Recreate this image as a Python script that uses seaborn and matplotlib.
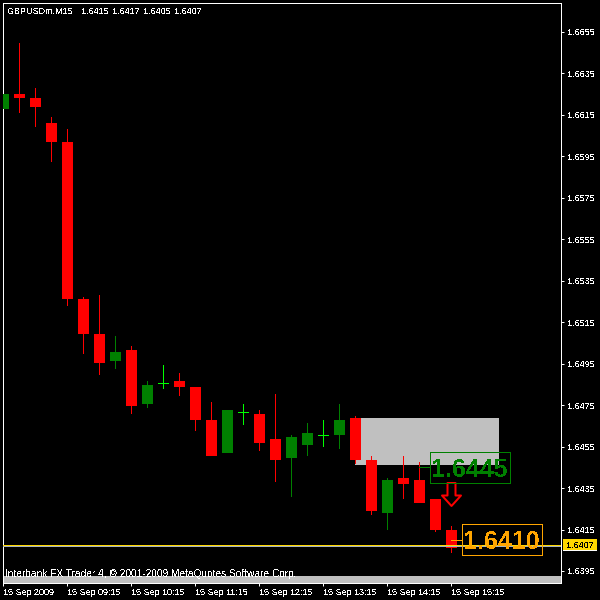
"""GBPUSD M15 candles, MT4 style"""

import matplotlib
matplotlib.use('Agg')
import matplotlib.pyplot as plt
from matplotlib.path import Path
import seaborn as sns
import pandas as pd
import numpy as np

# ---------------------------- data ------------------------------
opens = [1.66184, 1.66251, 1.66232, 1.66111, 1.66019, 1.65262, 1.65093, 1.64968, 1.65016, 1.64760,
         1.64857, 1.64867, 1.64838, 1.64678, 1.64524, 1.64717, 1.64707, 1.64587, 1.64500, 1.64563,
         1.64606, 1.64611, 1.64688, 1.64485, 1.64235, 1.64399, 1.64389, 1.64297, 1.64148]
highs = [1.66280, 1.66497, 1.66280, 1.66140, 1.66082, 1.65272, 1.65281, 1.65084, 1.65035, 1.64867,
         1.64944, 1.64905, 1.64838, 1.64765, 1.64727, 1.64756, 1.64727, 1.64804, 1.64606, 1.64664,
         1.64678, 1.64756, 1.64698, 1.64505, 1.64399, 1.64505, 1.64476, 1.64297, 1.64167]
lows = [1.66155, 1.66164, 1.66097, 1.65928, 1.65233, 1.65002, 1.64900, 1.64929, 1.64712, 1.64741,
        1.64833, 1.64799, 1.64630, 1.64510, 1.64524, 1.64659, 1.64534, 1.64384, 1.64312, 1.64510,
        1.64553, 1.64543, 1.64471, 1.64225, 1.64153, 1.64302, 1.64283, 1.64143, 1.64042]
closes = [1.66251, 1.66237, 1.66193, 1.66024, 1.65267, 1.65098, 1.64958, 1.65006, 1.64751, 1.64847,
          1.64857, 1.64842, 1.64683, 1.64510, 1.64727, 1.64717, 1.64572, 1.64490, 1.64596, 1.64616,
          1.64606, 1.64678, 1.64490, 1.64244, 1.64389, 1.64375, 1.64283, 1.64153, 1.64066]

price_ticks = [1.6395, 1.6415, 1.6435, 1.6455, 1.6475, 1.6495, 1.6515, 1.6535, 1.6555, 1.6575,
               1.6595, 1.6615, 1.6635, 1.6655]
time_ticks = [0, 4, 8, 12, 16, 20, 24, 28]
time_labels = ['15 Sep 2009', '15 Sep 09:15', '15 Sep 10:15', '15 Sep 11:15', '15 Sep 12:15',
               '15 Sep 13:15', '15 Sep 14:15', '15 Sep 15:15']

header_name = 'GBPUSDm,M15'
header_ohlc = ['1.6415', '1.6417', '1.6405', '1.6407']
footer = 'Interbank FX Trader 4, © 2001-2009 MetaQuotes Software Corp.'

zone_bars = [22, 31]
zone_low = 1.64461
zone_high = 1.64688
strip_top = 1.63926
bid_price = 1.64075
ask_price = 1.64071
green_label = (26, 1.6445)
orange_label = (28, 1.6410)
signal_bar = 28
signal_price = 1.64323

PX = 0.72   # one pixel in points at dpi 100
RED = '#ff0000'
GREEN = '#008000'
LIME = '#00ff00'
GREY = '#c0c0c0'
ORANGE = '#ffa500'
GOLD = '#ffd700'
palette = {'down': RED, 'up': GREEN, 'doji': LIME}
SMALL = 6.5

# ---------------------------- frames ----------------------------
df = pd.DataFrame({'bar': np.arange(len(opens)), 'open': opens, 'high': highs,
                   'low': lows, 'close': closes})
df['kind'] = np.where(df['close'] > df['open'], 'up',
                      np.where(df['close'] < df['open'], 'down', 'doji'))

wicks = df.melt(id_vars=['bar', 'kind'], value_vars=['high', 'low'], value_name='price')
bodies = df[df['kind'] != 'doji'].melt(id_vars=['bar', 'kind'], value_vars=['open', 'close'],
                                       value_name='price')
dojis = df[df['kind'] == 'doji']

# ---------------------------- figure ----------------------------
sns.set_theme(style='dark', rc={'axes.facecolor': 'black', 'figure.facecolor': 'black',
                                'axes.edgecolor': 'white', 'axes.linewidth': PX,
                                'xtick.color': 'white', 'ytick.color': 'white',
                                'text.color': 'white', 'text.antialiased': False})
plt.rcParams['font.family'] = ['Liberation Sans', 'DejaVu Sans']

fig = plt.figure(figsize=(6, 6), dpi=100)
ax = fig.add_axes([2.5 / 600, 1 - 582.5 / 600, 558 / 600, 580 / 600])

ax.axhspan(-1, strip_top, color=GREY, lw=0, zorder=1)
ax.fill_between(zone_bars, zone_low, zone_high, color=GREY, lw=0, zorder=1)

sns.lineplot(data=wicks, x='bar', y='price', hue='kind', units='bar', estimator=None, sort=False,
             palette=palette, legend=False, linewidth=PX, antialiased=False,
             solid_capstyle='butt', ax=ax, zorder=2)
sns.lineplot(data=bodies, x='bar', y='price', hue='kind', units='bar', estimator=None, sort=False,
             palette=palette, legend=False, linewidth=11 * PX, antialiased=False,
             solid_capstyle='butt', ax=ax, zorder=3)
ax.hlines(dojis['close'], dojis['bar'] - 0.34, dojis['bar'] + 0.34, color=LIME, lw=PX,
          antialiased=False, zorder=3)

ax.axhline(ask_price, color='#a8b4c0', lw=PX, antialiased=False, zorder=4)
ax.axhline(bid_price, color=GOLD, lw=PX, antialiased=False, zorder=4)

# down arrow signal
arrow = Path([(-4, 11.5), (4, 11.5), (4, -1), (9.5, -1), (0, -11.5), (-9.5, -1), (-4, -1), (-4, 11.5)],
             closed=True)
ax.plot([signal_bar], [signal_price], marker=arrow, markersize=23 * PX, markerfacecolor='none',
        markeredgecolor=RED, markeredgewidth=2 * PX, linestyle='none', zorder=5)

# price labels: connector, box and text
box_gap = 0.69      # in bars
box_w = 5.0         # in bars
box_h = 0.0015      # in price
for (bar, price), col in [(green_label, GREEN), (orange_label, ORANGE)]:
    ax.hlines(price, bar, bar + box_gap, color=col, lw=PX, antialiased=False, zorder=6)
    ax.add_patch(plt.Rectangle((bar + box_gap, price - box_h / 2), box_w, box_h, fc='none', ec=col,
                               lw=PX, antialiased=False, zorder=6))
    ax.text(bar + box_gap + box_w / 2, price, f'{price:.4f}', ha='center', va='center_baseline',
            fontsize=18, fontweight='bold', color=col, zorder=6)

ax.set_xlim(-0.03, 34.845)
ax.set_ylim(1.638945, 1.66692)
ax.set_xlabel('')
ax.set_ylabel('')
ax.grid(False)
ax.yaxis.tick_right()
ax.set_yticks(price_ticks, labels=[f'{p:.4f}' for p in price_ticks])
ax.set_xticks(time_ticks, labels=time_labels, ha='left')
ax.tick_params(axis='both', length=3 * PX, width=PX, labelsize=SMALL)
ax.tick_params(axis='x', bottom=True, pad=1.5)
ax.tick_params(axis='y', right=True, pad=2.5)

# current price tag
fig.add_artist(plt.Rectangle((563 / 600, 1 - 549.5 / 600), 34 / 600, 10.5 / 600, fc=GOLD, lw=0,
                             transform=fig.transFigure))
fig.add_artist(plt.Rectangle((563 / 600, 1 - 551 / 600), 34 / 600, 1.5 / 600, fc='white', lw=0,
                             transform=fig.transFigure))
fig.text(580 / 600, 1 - 544.5 / 600, header_ohlc[3], color='black', fontsize=SMALL, ha='center',
         va='center_baseline')

# header and footer text
fig.text(7 / 600, 1 - 14 / 600, header_name, fontsize=SMALL)
for i, s in enumerate(header_ohlc):
    fig.text((81 + 31 * i) / 600, 1 - 14 / 600, s, fontsize=SMALL)
fig.text(5 / 600, 1 - 577 / 600, footer, fontsize=7.3)

plt.savefig('out.png', dpi=100, facecolor='black')
